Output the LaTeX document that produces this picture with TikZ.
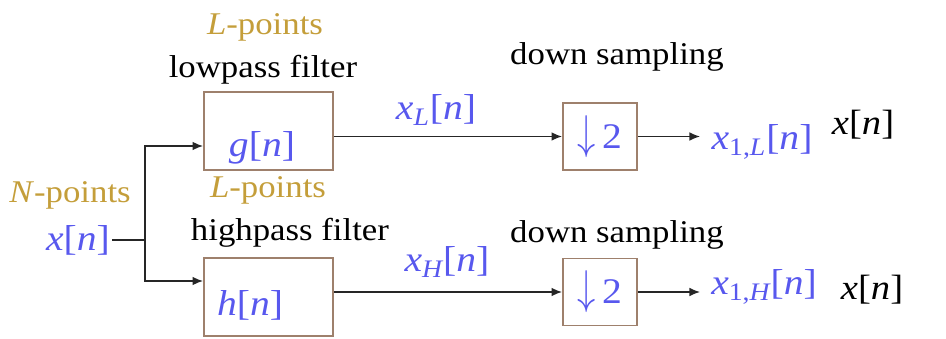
\documentclass[tikz,border=0pt]{standalone}
\usepackage{amsmath}
\usepackage{fontspec}
\setmainfont{Liberation Serif}[FakeStretch=1.1]
\usetikzlibrary{arrows.meta}

\definecolor{sigblue}{RGB}{88,88,238}
\definecolor{ptsgold}{RGB}{196,158,58}
\definecolor{boxbrown}{RGB}{158,128,108}

\newcommand{\dnarrow}{\scalebox{1}[1.3]{$\downarrow$}}

\begin{document}
\begin{tikzpicture}[
  x=0.02cm, y=0.02cm,
  filt/.style={rectangle, draw=boxbrown, line width=1.1pt, minimum width=2.58cm, minimum height=1.56cm},
  dsamp/.style={rectangle, draw=boxbrown, line width=1.1pt, minimum width=1.48cm, minimum height=1.34cm},
  lbl/.style={inner sep=1pt, font=\fontsize{18}{20}\selectfont},
  pts/.style={lbl, text=ptsgold},
  sig/.style={inner sep=1pt, text=sigblue, font=\fontsize{20.5}{22}\selectfont},
  arr/.style={-{Latex[length=6pt,width=5pt]}, line width=0.9pt, draw=black!85},
  ln/.style={line width=0.9pt, draw=black!85},
]
  \useasboundingbox (0,0) rectangle (946,338);

  % Input
  \node[pts] (np) at (70,143) {\textit{N}-points};
  \node[sig] (xin) at (78,98) {\textit{x}[\textit{n}]};
  \coordinate (jn) at (145,102);

  % Filters
  \node[pts] (lp1) at (265,311) {\textit{L}-points};
  \node[lbl] (lpf) at (263,268) {lowpass filter};
  \node[filt] (g) at (268.5,207) {};
  \node[sig] at (262,190) {\textit{g}[\textit{n}]};

  \node[pts] (lp2) at (268,148) {\textit{L}-points};
  \node[lbl] (hpf) at (290,105) {highpass filter};
  \node[filt] (h) at (268.5,41) {};
  \node[sig] at (250,33) {\textit{h}[\textit{n}]};

  % Down sampling
  \node[lbl] (ds1) at (617,281) {down sampling};
  \node[dsamp, sig] (dn1) at (600,201.5) {\dnarrow\,2};
  \node[lbl] (ds2) at (617,103) {down sampling};
  \node[dsamp, sig] (dn2) at (600,46) {\dnarrow\,2};

  % Signals
  \node[sig] (xL) at (436,228) {\textit{x}$_{\textit{L}}$[\textit{n}]};
  \node[sig] (xH) at (447,76) {\textit{x}$_{\textit{H}}$[\textit{n}]};
  \node[sig] (x1L) at (762,196) {\textit{x}$_{\text{1,}\textit{L}}$[\textit{n}]};
  \node[sig] (x1H) at (764,51) {\textit{x}$_{\text{1,}\textit{H}}$[\textit{n}]};
  \node[lbl, font=\fontsize{20}{22}\selectfont] (xr1) at (863,213) {\textit{x}[\textit{n}]};
  \node[lbl, font=\fontsize{20}{22}\selectfont] (xr2) at (872,48) {\textit{x}[\textit{n}]};
  \coordinate (o1) at (700,201.5);
  \coordinate (o2) at (700,46);

  % Arrows
  \draw[ln] (xin.east) -- (xin.east -| jn);
  \draw[arr] (jn |- xin.east) |- ([yshift=-0.3cm]g.west);
  \draw[arr] (jn |- xin.east) |- ([yshift=0.32cm]h.west);
  \draw[arr] (g.east |- dn1.west) -- (dn1.west);
  \draw[arr] (h.east |- dn2.west) -- (dn2.west);
  \draw[arr] (dn1.east) -- (o1);
  \draw[arr] (dn2.east) -- (o2);
\end{tikzpicture}
\end{document}
